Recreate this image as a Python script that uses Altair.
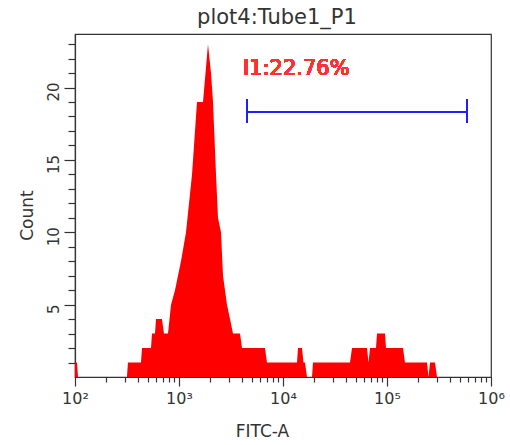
import altair as alt
import pandas as pd

# Histogram outline: FITC-A value and event count
fitc = [100, 104.5, 106.9, 316, 323, 431, 441, 538, 550, 588, 601, 686, 717,
        784, 838, 915, 978, 1045, 1168, 1334, 1425, 1490, 1701, 1900, 2031,
        2123, 2269, 2371, 2534, 2650, 2894, 3094, 3306, 3860, 4035, 6713, 7018,
        13635, 13940, 15230, 15740, 16270, 17010, 19000, 19430, 44090, 46090,
        64230, 66400, 68630, 78390, 80140, 95680, 97810, 142500, 149000,
        242400, 250600, 259100, 289400, 302600]
count = [1, 1, 0, 0, 1, 1, 2, 2, 3, 3, 4, 4, 3,
         3, 5, 6, 7, 8, 10, 14, 17, 19, 19, 23, 21,
         19, 14, 11, 10, 7, 5, 4, 3, 3, 2, 2, 1,
         1, 2, 2, 1, 1, 0, 0, 1, 1, 2,
         2, 1, 2, 2, 3, 3, 2, 2, 1,
         1, 0, 1, 1, 0]

# Gate I1
gate_lo = 4506
gate_hi = 587600
gate_y = 18.3
cap_lo = 17.55
cap_hi = 19.2
gate_label = "I1:22.76%"
label_x = 4121
label_y = 20.9

# Axes
x_domain = [100, 1000000]
x_ticks = [100, 200, 300, 400, 500, 600, 700, 800, 900,
           1000, 2000, 3000, 4000, 5000, 6000, 7000, 8000, 9000,
           10000, 20000, 30000, 40000, 50000, 60000, 70000, 80000, 90000,
           100000, 200000, 300000, 400000, 500000, 600000, 700000, 800000, 900000,
           1000000]
y_domain = [0, 23.7]
y_ticks = [1, 2, 3, 4, 5, 6, 7, 8, 9, 10, 11, 12, 13, 14, 15, 16, 17, 18, 19,
           20, 21, 22, 23]

FONT = "DejaVu Sans"
DARK = "#333333"

hist = pd.DataFrame({"FITC-A": fitc, "Count": count})

x_label_expr = ("datum.value == 100 ? '10²' : datum.value == 1000 ? '10³' : "
                "datum.value == 10000 ? '10⁴' : datum.value == 100000 ? '10⁵' : "
                "datum.value == 1000000 ? '10⁶' : ''")

x_axis = alt.Axis(
    values=x_ticks, tickCount=200,
    labelExpr=x_label_expr,
    tickSize={"condition": {"test": "indexof([100,1000,10000,100000,1000000], datum.value) >= 0",
                            "value": 9}, "value": 5},
    labelOverlap=False, labelFlush=False, grid=False,
    labelFontSize=16, labelPadding=4, labelFont=FONT,
    title="FITC-A", titleFontSize=17, titleFont=FONT, titleFontWeight="normal",
    titlePadding=17, titleX=187,
)
y_axis = alt.Axis(
    values=y_ticks, tickCount=200,
    labelExpr="datum.value % 5 == 0 ? format(datum.value, 'd') : ''",
    tickSize={"condition": {"test": "datum.value % 5 == 0", "value": 11}, "value": 7},
    labelAngle=-90, labelOverlap=False, labelFlush=False, grid=False,
    labelFontSize=15, labelPadding=3, labelFont=FONT, labelOffset=4,
    title="Count", titleFontSize=17, titleFont=FONT, titleFontWeight="normal",
    titlePadding=10, titleY=181,
)

area = alt.Chart(hist).mark_area(color="#ff0000", interpolate="linear", opacity=1).encode(
    x=alt.X("FITC-A:Q", scale=alt.Scale(type="log", domain=x_domain, nice=False), axis=x_axis),
    y=alt.Y("Count:Q", scale=alt.Scale(domain=y_domain, nice=False, zero=True), axis=y_axis),
)

gate = alt.Chart(hist).mark_rule(color="#1f1fff", strokeWidth=1.6).encode(
    x=alt.datum(gate_lo), x2=alt.datum(gate_hi), y=alt.datum(gate_y)
)
cap_left = alt.Chart(hist).mark_rule(color="#1f1fff", strokeWidth=1.6).encode(
    x=alt.datum(gate_lo), y=alt.datum(cap_lo), y2=alt.datum(cap_hi)
)
cap_right = alt.Chart(hist).mark_rule(color="#1f1fff", strokeWidth=1.6).encode(
    x=alt.datum(gate_hi), y=alt.datum(cap_lo), y2=alt.datum(cap_hi)
)
label = alt.Chart(hist).mark_text(
    color="#ff3030", fontSize=21, font=FONT, align="left", baseline="alphabetic"
).encode(x=alt.datum(label_x), y=alt.datum(label_y), text=alt.value(gate_label))

chart = alt.layer(area, gate, cap_left, cap_right, label).properties(
    width=416, height=343,
    title=alt.TitleParams("plot4:Tube1_P1", fontSize=21, font=FONT, fontWeight="normal",
                          color=DARK, anchor="middle", offset=6, dx=-6),
    autosize=alt.AutoSizeParams(type="none"),
    padding={"left": 75, "top": 34, "right": 19, "bottom": 68},
).configure_view(
    stroke=DARK, strokeWidth=1.2
).configure_axis(
    domainColor=DARK, tickColor=DARK, labelColor=DARK, titleColor=DARK,
    domainWidth=1.2, tickWidth=1.2
)

chart.save("out.html", embed_options={"renderer": "svg", "actions": False})
